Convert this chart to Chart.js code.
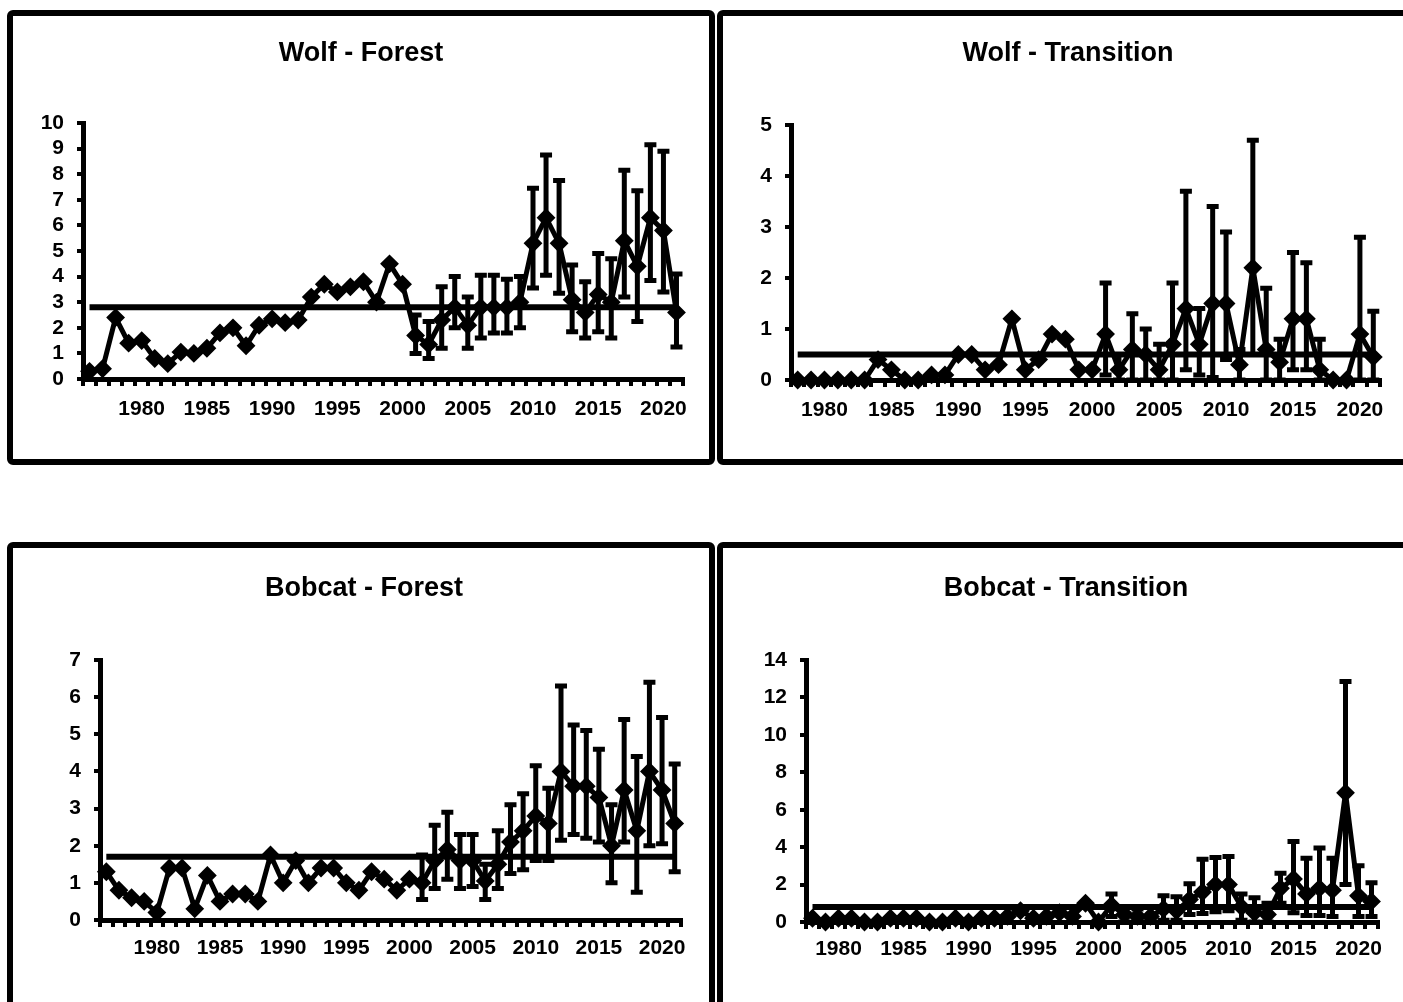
<!DOCTYPE html>
<html>
<head>
<meta charset="utf-8">
<title>Wolf and Bobcat indices</title>
<script src="https://cdn.jsdelivr.net/npm/chart.js@4.4.1/dist/chart.umd.min.js"></script>
<style>
	html, body { margin: 0; padding: 0; background: #fff; }
	body { width: 1403px; height: 1002px; overflow: hidden; position: relative; }
	.panel { position: absolute; border: 6px solid #000; border-radius: 6px; background: #fff; }
	.panel canvas { display: block; }
</style>
</head>
<body>
	<div class="panel" style="left:7px; top:10px;"><canvas id="wolfForest" width="696" height="443"></canvas></div>
	<div class="panel" style="left:717px; top:10px;"><canvas id="wolfTransition" width="696" height="443"></canvas></div>
	<div class="panel" style="left:7px; top:542px;"><canvas id="bobcatForest" width="696" height="460"></canvas></div>
	<div class="panel" style="left:717px; top:542px;"><canvas id="bobcatTransition" width="696" height="460"></canvas></div>

<script>
// categories
const forestYears = [1976, 1977, 1978, 1979, 1980, 1981, 1982, 1983, 1984, 1985,
	1986, 1987, 1988, 1989, 1990, 1991, 1992, 1993, 1994, 1995,
	1996, 1997, 1998, 1999, 2000, 2001, 2002, 2003, 2004, 2005,
	2006, 2007, 2008, 2009, 2010, 2011, 2012, 2013, 2014, 2015,
	2016, 2017, 2018, 2019, 2020, 2021];
const transitionYears = [1978, 1979, 1980, 1981, 1982, 1983, 1984, 1985,
	1986, 1987, 1988, 1989, 1990, 1991, 1992, 1993, 1994, 1995,
	1996, 1997, 1998, 1999, 2000, 2001, 2002, 2003, 2004, 2005,
	2006, 2007, 2008, 2009, 2010, 2011, 2012, 2013, 2014, 2015,
	2016, 2017, 2018, 2019, 2020, 2021];
// years that carry an error bar
const ciYears = [2001, 2002, 2003, 2004, 2005, 2006, 2007, 2008, 2009, 2010,
	2011, 2012, 2013, 2014, 2015, 2016, 2017, 2018, 2019, 2020, 2021];

// Wolf - Forest
const wolfForest = [0.3, 0.4, 2.4, 1.4, 1.5, 0.8, 0.6, 1.05, 1.0, 1.2,
	1.8, 2.0, 1.3, 2.1, 2.35, 2.2, 2.3, 3.2, 3.7, 3.4,
	3.6, 3.8, 3.0, 4.5, 3.7, 1.7, 1.35, 2.3, 2.8, 2.1,
	2.8, 2.8, 2.8, 3.0, 5.3, 6.3, 5.3, 3.1, 2.6, 3.3,
	3.0, 5.4, 4.4, 6.3, 5.8, 2.6];
const wolfForestUpper = [2.5, 2.25, 3.6, 4.0, 3.2, 4.05, 4.05, 3.9, 4.0, 7.45,
	8.75, 7.75, 4.45, 3.8, 4.9, 4.7, 8.15, 7.35, 9.15, 8.9, 4.1];
const wolfForestLower = [1.0, 0.8, 1.2, 2.0, 1.2, 1.6, 1.8, 1.8, 2.0, 3.55,
	4.05, 3.35, 1.85, 1.6, 1.85, 1.6, 3.2, 2.25, 3.85, 3.4, 1.25];
const wolfForestMean = 2.8;

// Wolf - Transition
const wolfTransition = [0, 0, 0, 0, 0, 0, 0.4, 0.2,
	0, 0, 0.1, 0.1, 0.5, 0.5, 0.2, 0.3, 1.2, 0.2,
	0.4, 0.9, 0.8, 0.2, 0.2, 0.9, 0.2, 0.6, 0.5, 0.2,
	0.7, 1.4, 0.7, 1.5, 1.5, 0.3, 2.2, 0.6, 0.35, 1.2,
	1.2, 0.2, 0, 0, 0.9, 0.45];
const wolfTransitionUpper = [1.9, 0.5, 1.3, 1.0, 0.7, 1.9, 3.7, 1.4, 3.4, 2.9,
	0.6, 4.7, 1.8, 0.8, 2.5, 2.3, 0.8, null, null, 2.8, 1.35];
const wolfTransitionLower = [0.1, 0, 0, 0, 0, 0, 0.2, 0.1, 0.05, 0.4,
	0, 0.5, 0, 0, 0.2, 0.2, 0, null, null, 0, 0];
const wolfTransitionMean = 0.5;

// Bobcat - Forest
const bobcatForest = [1.3, 0.8, 0.6, 0.5, 0.2, 1.4, 1.4, 0.3, 1.2, 0.5,
	0.7, 0.7, 0.5, 1.75, 1.0, 1.6, 1.0, 1.4, 1.4, 1.0,
	0.8, 1.3, 1.1, 0.8, 1.1, 1.0, 1.6, 1.9, 1.6, 1.6,
	1.05, 1.5, 2.1, 2.4, 2.8, 2.6, 4.0, 3.6, 3.6, 3.3,
	2.0, 3.5, 2.4, 4.0, 3.5, 2.6];
const bobcatForestUpper = [1.75, 2.55, 2.9, 2.3, 2.3, 1.5, 2.4, 3.1, 3.4, 4.15,
	3.55, 6.3, 5.25, 5.1, 4.6, 3.1, 5.4, 4.4, 6.4, 5.45, 4.2];
const bobcatForestLower = [0.55, 0.85, 1.1, 0.85, 0.9, 0.55, 0.85, 1.25, 1.35, 1.6,
	1.6, 2.15, 2.3, 2.2, 2.1, 1.0, 2.1, 0.75, 2.0, 2.05, 1.3];
const bobcatForestMean = 1.7;

// Bobcat - Transition
const bobcatTransition = [0.2, 0, 0.2, 0.2, 0, 0, 0.2, 0.2,
	0.2, 0, 0, 0.2, 0, 0.2, 0.2, 0.3, 0.6, 0.2,
	0.3, 0.5, 0.3, 1.0, 0, 0.9, 0.4, 0.3, 0.3, 0.7,
	0.6, 1.2, 1.6, 2.0, 2.0, 0.8, 0.5, 0.4, 1.8, 2.3,
	1.5, 1.8, 1.7, 6.9, 1.4, 1.1];
const bobcatTransitionUpper = [1.5, 0.8, 0.7, 0.8, 1.4, 1.35, 2.05, 3.35, 3.45, 3.5,
	1.5, 1.3, 1.0, 2.6, 4.3, 3.4, 3.95, 3.4, 12.85, 3.0, 2.1];
const bobcatTransitionLower = [0.3, 0, 0, 0, 0.1, 0.1, 0.4, 0.45, 0.55, 0.6,
	0.1, 0, 0, 1.0, 0.5, 0.35, 0.35, 0.3, 2.0, 0.3, 0.3];
const bobcatTransitionMean = 0.8;

Chart.defaults.font.family = "Arial, 'Liberation Sans', sans-serif";
Chart.defaults.font.weight = 'bold';
Chart.defaults.color = '#000';

// vertical error bars with caps, drawn through the chart's own scales
const errorBarPlugin = {
	id: 'errorBars',
	afterDatasetsDraw(chart, args, opts) {
		const xs = chart.scales.x, ys = chart.scales.y, ctx = chart.ctx;
		ctx.save();
		ctx.strokeStyle = '#000';
		ctx.lineWidth = 5;
		ctx.lineCap = 'butt';
		opts.years.forEach(function(yr, i) {
			const lo = opts.lower[i], hi = opts.upper[i];
			if (lo == null || hi == null) return;
			const idx = chart.data.labels.indexOf(yr);
			if (idx < 0) return;
			const px = xs.getPixelForValue(idx);
			const top = ys.getPixelForValue(hi), bot = ys.getPixelForValue(lo);
			ctx.beginPath();
			ctx.moveTo(px, top); ctx.lineTo(px, bot);
			ctx.moveTo(px - 6, top); ctx.lineTo(px + 6, top);
			ctx.moveTo(px - 6, bot); ctx.lineTo(px + 6, bot);
			ctx.stroke();
		});
		ctx.restore();
	}
};

function makePanel(id, title, years, values, mean, lower, upper, yMax, yStep, box) {
	const canvas = document.getElementById(id);
	const padRight = canvas.width - box.right;
	// left padding nudges the title centre, but must leave room for the y labels
	const padLeft = Math.min(2 * box.titleX - canvas.width + padRight, box.left - box.labelRoom);
	return new Chart(canvas, {
		type: 'line',
		data: {
			labels: years,
			datasets: [{
				data: values,
				borderColor: '#000',
				borderWidth: 5,
				tension: 0,
				pointStyle: 'rectRot',
				pointRadius: 8,
				pointBackgroundColor: '#000',
				pointBorderColor: '#000',
				pointBorderWidth: 2,
				clip: false
			}, {
				data: years.map(function() { return mean; }),
				borderColor: '#000',
				borderWidth: 6,
				pointRadius: 0,
				tension: 0,
				clip: false
			}]
		},
		plugins: [errorBarPlugin],
		options: {
			responsive: false,
			animation: false,
			events: [],
			layout: { padding: { top: 0, left: padLeft, right: padRight, bottom: 0 } },
			plugins: {
				legend: { display: false },
				tooltip: { enabled: false },
				title: {
					display: true,
					text: title,
					color: '#000',
					font: { size: 27, weight: 'bold', lineHeight: 1.2 },
					padding: { top: box.titleY - 16.2, bottom: box.top - box.titleY - 16.2 }
				},
				errorBars: { years: ciYears, lower: lower, upper: upper }
			},
			scales: {
				x: {
					type: 'category',
					offset: true,
					grid: { display: true, offset: true, drawOnChartArea: false, drawTicks: true, tickLength: 7, color: '#000', lineWidth: 4 },
					border: { display: true, color: '#000', width: 5 },
					ticks: {
						autoSkip: false, maxRotation: 0, minRotation: 0, padding: box.labelPad,
						font: { size: 21, weight: 'bold' }, color: '#000',
						callback: function(value) {
							const yr = this.getLabelForValue(value);
							return yr % 5 === 0 ? String(yr) : '';
						}
					},
					afterFit: function(scale) { scale.height = canvas.height - box.bottom; }
				},
				y: {
					min: 0, max: yMax,
					grid: { display: true, drawOnChartArea: false, drawTicks: true, tickLength: 6, color: '#000', lineWidth: 4 },
					border: { display: true, color: '#000', width: 5 },
					ticks: { stepSize: yStep, autoSkip: false, padding: 13, font: { size: 21, weight: 'bold', lineHeight: 1 }, color: '#000' },
					afterFit: function(scale) { scale.width = box.left - padLeft; }
				}
			}
		}
	});
}

// plot-area placement inside each panel canvas
const wolfForestBox = { left: 70, right: 670, top: 107, bottom: 363, titleX: 351, titleY: 38, labelPad: 11, labelRoom: 44 };
const wolfTransitionBox = { left: 68, right: 657, top: 109, bottom: 364, titleX: 345, titleY: 38, labelPad: 11, labelRoom: 32 };
const bobcatForestBox = { left: 87, right: 668, top: 112, bottom: 372, titleX: 351, titleY: 41, labelPad: 9, labelRoom: 32 };
const bobcatTransitionBox = { left: 83, right: 655, top: 112, bottom: 374, titleX: 343, titleY: 41, labelPad: 8, labelRoom: 44 };

makePanel('wolfForest', 'Wolf - Forest', forestYears, wolfForest, wolfForestMean,
	wolfForestLower, wolfForestUpper, 10, 1, wolfForestBox);
makePanel('wolfTransition', 'Wolf - Transition', transitionYears, wolfTransition, wolfTransitionMean,
	wolfTransitionLower, wolfTransitionUpper, 5, 1, wolfTransitionBox);
makePanel('bobcatForest', 'Bobcat - Forest', forestYears, bobcatForest, bobcatForestMean,
	bobcatForestLower, bobcatForestUpper, 7, 1, bobcatForestBox);
makePanel('bobcatTransition', 'Bobcat - Transition', transitionYears, bobcatTransition, bobcatTransitionMean,
	bobcatTransitionLower, bobcatTransitionUpper, 14, 2, bobcatTransitionBox);
</script>
</body>
</html>
